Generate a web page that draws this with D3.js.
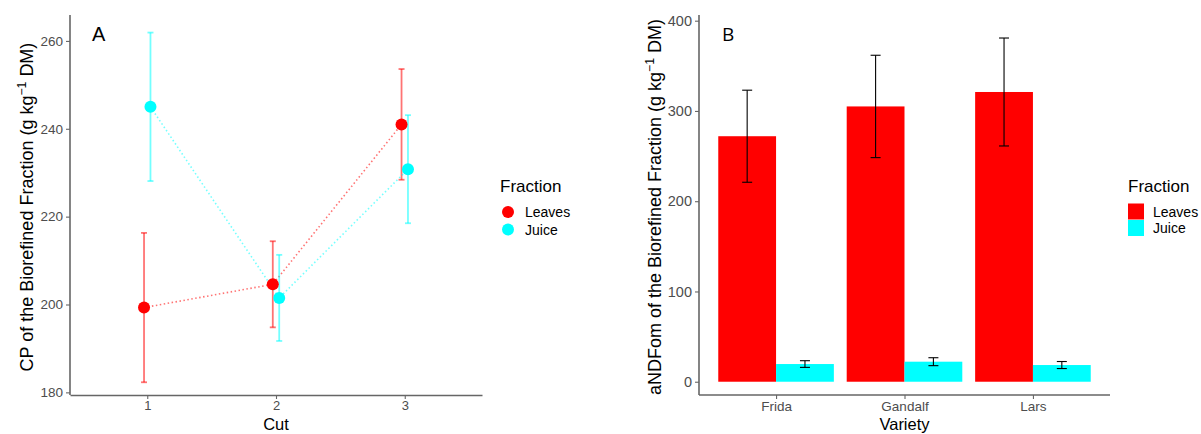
<!DOCTYPE html>
<html>
<head>
<meta charset="utf-8">
<script src="https://cdn.jsdelivr.net/npm/d3@7"></script>
<style>
body{margin:0;background:#fff;}
svg{display:block;font-family:"Liberation Sans",Arial,sans-serif;}
</style>
</head>
<body>
<svg id="chart" width="1201" height="434"></svg>
<script>
// ---- Data ----
const cuts = [1, 2, 3];
const fractions = ["Leaves", "Juice"];
const cpLeaves = [199.3, 204.6, 241.0];
const cpLeavesErr = [17.0, 9.8, 12.6];
const cpJuice = [245.0, 201.5, 230.8];
const cpJuiceErr = [16.9, 9.8, 12.3];
const cpTicks = [180, 200, 220, 240, 260];

const varieties = ["Frida", "Gandalf", "Lars"];
const ndfLeaves = [272, 305, 321];
const ndfLeavesErr = [51, 56.7, 59.8];
const ndfJuice = [19.6, 22.2, 18.5];
const ndfJuiceErr = [3.7, 4.4, 3.9];
const ndfTicks = [0, 100, 200, 300, 400];

const colors = {Leaves: "#FF0000", Juice: "#00FFFF"};

const svg = d3.select("#chart");
const grey = "#4d4d4d";

// ---- Panel A ----
const A = {left: 70, right: 482, top: 15, bottom: 395};
const xA = d3.scaleLinear().domain([0.4, 3.6]).range([A.left, A.right]);
const yA = d3.scaleLinear().domain([179.4, 265.9]).range([A.bottom, A.top]);
const dodge = 0.025;

const seriesA = [
  {name: "Leaves", vals: cpLeaves, err: cpLeavesErr, off: -dodge},
  {name: "Juice", vals: cpJuice, err: cpJuiceErr, off: dodge}
];

const gA = svg.append("g");
seriesA.forEach(s => {
  const pts = cuts.map((c, i) => ({x: c + s.off, y: s.vals[i], e: s.err[i]}));
  gA.append("path")
    .attr("d", d3.line().x(d => xA(d.x)).y(d => yA(d.y))(pts))
    .attr("fill", "none").attr("stroke", colors[s.name])
    .attr("stroke-opacity", 0.55).attr("stroke-width", 1.6)
    .attr("stroke-dasharray", "1.5,2.5");
  const eb = gA.append("g").attr("stroke", colors[s.name]).attr("stroke-opacity", 0.55).attr("stroke-width", 1.8);
  pts.forEach(d => {
    const cx = xA(d.x);
    eb.append("line").attr("x1", cx).attr("x2", cx).attr("y1", yA(d.y - d.e)).attr("y2", yA(d.y + d.e));
    eb.append("line").attr("x1", cx - 3).attr("x2", cx + 3).attr("y1", yA(d.y - d.e)).attr("y2", yA(d.y - d.e));
    eb.append("line").attr("x1", cx - 3).attr("x2", cx + 3).attr("y1", yA(d.y + d.e)).attr("y2", yA(d.y + d.e));
  });
});
seriesA.forEach(s => {
  gA.selectAll(null).data(cuts.map((c, i) => ({x: c + s.off, y: s.vals[i]})))
    .enter().append("circle")
    .attr("cx", d => xA(d.x)).attr("cy", d => yA(d.y)).attr("r", 6)
    .attr("fill", colors[s.name]);
});

function styleAxis(g, fs) {
  g.selectAll("path.domain").attr("stroke", "#666").attr("stroke-width", 1.6);
  g.selectAll(".tick line").attr("stroke", "#666").attr("stroke-width", 1.1);
  g.selectAll(".tick text").attr("fill", grey).attr("font-size", fs).attr("font-family", "Liberation Sans, Arial, sans-serif");
}
const axAy = svg.append("g").attr("transform", `translate(${A.left},0)`)
  .call(d3.axisLeft(yA).tickValues(cpTicks).tickSize(4).tickSizeOuter(0).tickPadding(3));
axAy.select("path.domain").attr("d", `M0,${A.top}V${A.bottom}`);
styleAxis(axAy, 13.5);
const axAx = svg.append("g").attr("transform", `translate(0,${A.bottom})`)
  .call(d3.axisBottom(xA).tickValues(cuts).tickFormat(d3.format("d")).tickSize(4).tickSizeOuter(0).tickPadding(2));
styleAxis(axAx, 13);

svg.append("text").attr("x", 92).attr("y", 41).attr("font-size", 20).attr("fill", "#000").text("A");
svg.append("text").attr("x", xA(2)).attr("y", 430).attr("text-anchor", "middle")
  .attr("font-size", 16.5).attr("fill", "#000").text("Cut");

function yTitle(x, y, label, fs) {
  const t = svg.append("text").attr("transform", `translate(${x},${y}) rotate(-90)`)
    .attr("text-anchor", "middle").attr("font-size", fs).attr("fill", "#000");
  t.append("tspan").text(label + " (g kg");
  t.append("tspan").attr("font-size", fs * 0.68).attr("dy", -7).text("−1");
  t.append("tspan").attr("dy", 7).text(" DM)");
}
yTitle(33, 207, "CP of the Biorefined Fraction", 18);

// legend A
const lA = svg.append("g").attr("transform", "translate(500,0)");
lA.append("text").attr("x", 0).attr("y", 192).attr("font-size", 17).attr("fill", "#000").text("Fraction");
fractions.forEach((f, i) => {
  const cy = 212 + i * 17.5;
  lA.append("circle").attr("cx", 8).attr("cy", cy).attr("r", 6).attr("fill", colors[f]);
  lA.append("text").attr("x", 25).attr("y", cy + 5).attr("font-size", 14).attr("fill", "#000").text(f);
});

// ---- Panel B ----
const B = {left: 699, right: 1110, top: 15, bottom: 395};
const yB = d3.scaleLinear().domain([-14.7, 406.3]).range([B.bottom, B.top]);
const stepB = (B.right - B.left) / 3.2;
const xBpos = d3.scalePoint().domain(varieties)
  .range([B.left + stepB * 0.6, B.left + stepB * 2.6]);
const barW = stepB * 0.9 / 2;

const dataB = [];
varieties.forEach((v, i) => {
  dataB.push({v, f: "Leaves", val: ndfLeaves[i], err: ndfLeavesErr[i]});
  dataB.push({v, f: "Juice", val: ndfJuice[i], err: ndfJuiceErr[i]});
});
const gB = svg.append("g");
gB.selectAll("rect").data(dataB).enter().append("rect")
  .attr("x", d => xBpos(d.v) + (d.f === "Leaves" ? -barW : 0))
  .attr("width", barW)
  .attr("y", d => yB(d.val))
  .attr("height", d => yB(0) - yB(d.val))
  .attr("fill", d => colors[d.f]);
const ebB = gB.append("g").attr("stroke", "#000").attr("stroke-width", 1.1);
dataB.forEach(d => {
  const cx = xBpos(d.v) + (d.f === "Leaves" ? -barW / 2 : barW / 2);
  const y1 = yB(d.val - d.err), y2 = yB(d.val + d.err);
  ebB.append("line").attr("x1", cx).attr("x2", cx).attr("y1", y1).attr("y2", y2);
  ebB.append("line").attr("x1", cx - 5).attr("x2", cx + 5).attr("y1", y1).attr("y2", y1);
  ebB.append("line").attr("x1", cx - 5).attr("x2", cx + 5).attr("y1", y2).attr("y2", y2);
});

const axBy = svg.append("g").attr("transform", `translate(${B.left},0)`)
  .call(d3.axisLeft(yB).tickValues(ndfTicks).tickSize(4).tickSizeOuter(0).tickPadding(3));
axBy.select("path.domain").attr("d", `M0,${B.top}V${B.bottom}`);
styleAxis(axBy, 14.5);
const axBx = svg.append("g").attr("transform", `translate(0,${B.bottom})`)
  .call(d3.axisBottom(xBpos).tickSize(4).tickSizeOuter(0).tickPadding(2));
axBx.select("path.domain").attr("d", `M${B.left},0H${B.right}`);
styleAxis(axBx, 13.5);

svg.append("text").attr("x", 722).attr("y", 41).attr("font-size", 19).attr("fill", "#000")
  .attr("font-family", "Open Sans, sans-serif").text("B");
svg.append("text").attr("x", xBpos("Gandalf")).attr("y", 430).attr("text-anchor", "middle")
  .attr("font-size", 16.5).attr("fill", "#000").text("Variety");
yTitle(661, 207, "aNDFom of the Biorefined Fraction", 18);

// legend B
const lB = svg.append("g").attr("transform", "translate(1128,0)");
lB.append("text").attr("x", 0).attr("y", 192).attr("font-size", 17).attr("fill", "#000").text("Fraction");
fractions.forEach((f, i) => {
  const top = 203.5 + i * 16.5;
  lB.append("rect").attr("x", 0).attr("y", top).attr("width", 16).attr("height", 16).attr("fill", colors[f]);
  lB.append("text").attr("x", 25).attr("y", top + 13).attr("font-size", 14).attr("fill", "#000").text(f);
});
</script>
</body>
</html>
